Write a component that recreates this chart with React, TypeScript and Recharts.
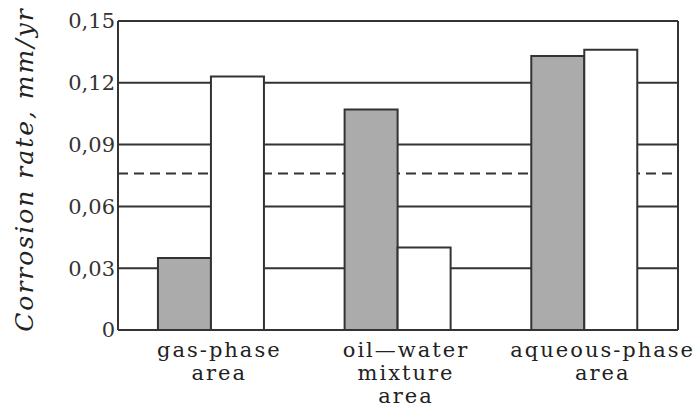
import React from "react";
import {
  Bar,
  BarChart,
  CartesianGrid,
  ReferenceLine,
  XAxis,
  YAxis,
} from "recharts";

const categories = ["gas-phase area", "oil—water mixture area", "aqueous-phase area"];
const categoryLines = [
  ["gas-phase", "area"],
  ["oil—water", "mixture", "area"],
  ["aqueous-phase", "area"],
];
const grayValues = [0.035, 0.107, 0.133];
const whiteValues = [0.123, 0.04, 0.136];
const yTicks = [0, 0.03, 0.06, 0.09, 0.12, 0.15];
const yTickLabels = ["0", "0,03", "0,06", "0,09", "0,12", "0,15"];
const thresholdValue = 0.076;

const data = categories.map((name, i) => ({
  name,
  gray: grayValues[i],
  white: whiteValues[i],
}));

const INK = "#333";
// Liberation Serif isn't picked up here, DejaVu Serif is
const SERIF = "DejaVu Serif, serif";

// the printed labels sit a little right of their bar pairs
const labelShift = [8, 8, 18];

function CategoryTick(props: any) {
  const { x, y, payload, index } = props;
  const lines = categoryLines[index] ?? [String(payload.value)];
  const cx = x + (labelShift[index] ?? 0);
  return (
    <text
      x={cx}
      y={y}
      textAnchor="middle"
      fill="#222"
      style={{ fontFamily: SERIF, fontSize: 21, letterSpacing: 2 }}
    >
      {lines.map((line, i) => (
        <tspan key={i} x={cx} y={y + 27 + i * 23}>
          {line}
        </tspan>
      ))}
    </text>
  );
}

function AxisTitle(props: any) {
  const { viewBox } = props;
  const x = viewBox.x + 33;
  const y = viewBox.y + viewBox.height / 2 - 6;
  return (
    <text
      x={x}
      y={y}
      transform={`rotate(-90, ${x}, ${y})`}
      textAnchor="middle"
      fill="#222"
      style={{
        fontFamily: SERIF,
        fontStyle: "italic",
        fontSize: 25,
        letterSpacing: 2,
      }}
    >
      Corrosion rate, mm/yr
    </text>
  );
}

export default function App() {
  return (
    <div style={{ position: "absolute", left: 0, top: 0, background: "#fff" }}>
      <BarChart
        width={695}
        height={409}
        data={data}
        margin={{ top: 21, right: 17, bottom: 0, left: 0 }}
        barCategoryGap="21.4%"
        barGap={0}
      >
        <CartesianGrid
          stroke={INK}
          strokeWidth={2}
          vertical={true}
          verticalCoordinatesGenerator={({ offset }: any) => [
            offset.left + offset.width,
          ]}
        />
        <XAxis
          dataKey="name"
          height={79}
          tickLine={false}
          tickSize={0}
          tickMargin={0}
          axisLine={{ stroke: INK, strokeWidth: 2 }}
          tick={<CategoryTick />}
          interval={0}
        />
        <YAxis
          width={118}
          domain={[0, 0.15]}
          ticks={yTicks}
          tickLine={false}
          tickSize={0}
          tickMargin={3}
          axisLine={{ stroke: INK, strokeWidth: 2 }}
          tick={{ fill: "#333", fontSize: 21, fontFamily: SERIF }}
          tickFormatter={(v: number) => yTickLabels[yTicks.indexOf(v)] ?? String(v)}
          label={<AxisTitle />}
        />
        <ReferenceLine
          y={thresholdValue}
          stroke={INK}
          strokeWidth={2}
          strokeDasharray="10 6"
          zIndex={0}
        />
        <Bar
          dataKey="gray"
          fill="#ababab"
          stroke={INK}
          strokeWidth={2}
          isAnimationActive={false}
        />
        <Bar
          dataKey="white"
          fill="#fff"
          stroke={INK}
          strokeWidth={2}
          isAnimationActive={false}
        />
      </BarChart>
    </div>
  );
}
